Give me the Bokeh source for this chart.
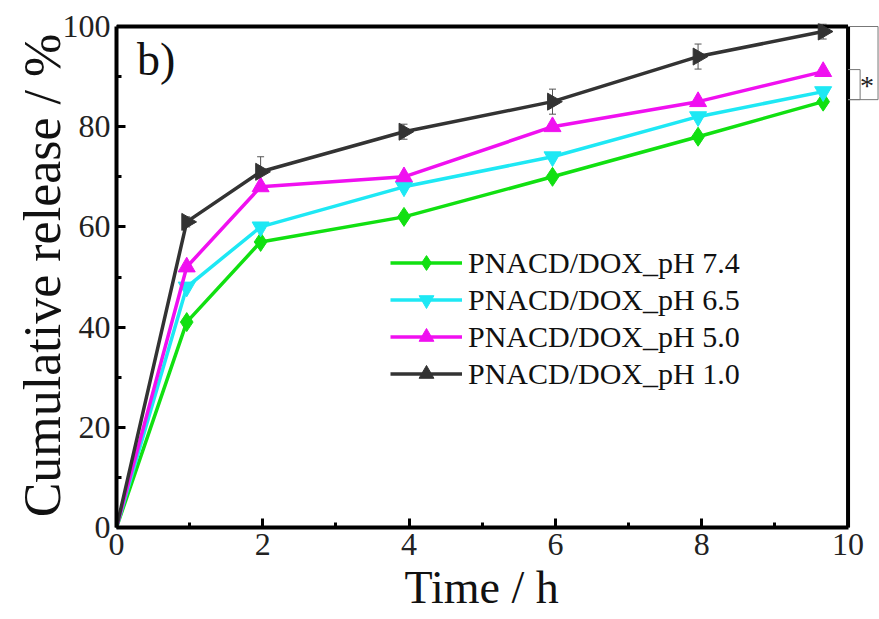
import numpy as np
from bokeh.plotting import figure
from bokeh.models import (Range1d, Legend, LegendItem, Label, ColumnDataSource,
                          Whisker, TeeHead, FixedTicker, Title)
from bokeh.embed import file_html
from bokeh.resources import INLINE

# ---- data ----
time_h = [0, 0.96, 1.97, 3.93, 5.96, 7.95, 9.66]
ph74 = [0, 41, 57, 62, 70, 78, 85]
ph65 = [0, 48, 60, 68, 74, 82, 87]
ph50 = [0, 52, 68, 70, 80, 85, 91]
ph10 = [0, 61, 71, 79, 85, 94, 99]
ph10_err = [0, 1.0, 3.0, 1.5, 2.5, 2.5, 1.5]
x_ticks = [0, 2, 4, 6, 8, 10]
y_ticks = [0, 20, 40, 60, 80, 100]
labels = ["PNACD/DOX_pH 7.4", "PNACD/DOX_pH 6.5", "PNACD/DOX_pH 5.0", "PNACD/DOX_pH 1.0"]
x_title = "Time / h"
y_title = "Cumulative release / %"
# significance brackets (y values)
bracket_outer = [100, 85.4]
bracket_inner = [91.4, 85.4]

FONT = "'Liberation Serif'"

p = figure(width=879, height=619, output_backend="svg", toolbar_location=None,
           x_range=Range1d(0, 10.43), y_range=Range1d(0, 100.6),
           min_border_left=116, min_border_right=0, min_border_top=23,
           min_border_bottom=92)
p.outline_line_color = None
p.grid.visible = False
p.background_fill_color = "white"
p.border_fill_color = "white"

for ax in (p.xaxis[0], p.yaxis[0]):
    ax.axis_line_width = 4
    ax.axis_line_color = "black"
    ax.major_tick_in = 9
    ax.major_tick_out = 0
    ax.minor_tick_in = 5
    ax.minor_tick_out = 0
    ax.major_tick_line_width = 3
    ax.minor_tick_line_width = 3
    ax.major_label_text_font = FONT
    ax.major_label_text_font_size = "32px"
    ax.major_label_text_color = "#222222"
    ax.axis_label_text_font = FONT
    ax.axis_label_text_font_style = "normal"
    ax.axis_label_text_color = "#111111"
    ax.major_label_standoff = 6

p.xaxis[0].bounds = (0, 10)
p.yaxis[0].bounds = (0, 100)
p.xaxis[0].ticker = FixedTicker(ticks=x_ticks, minor_ticks=[1, 3, 5, 7, 9])
p.yaxis[0].ticker = FixedTicker(ticks=y_ticks, minor_ticks=[10, 30, 50, 70, 90])
p.yaxis[0].axis_label = y_title
p.yaxis[0].axis_label_text_font_size = "52px"
p.yaxis[0].axis_label_standoff = -11

# x-axis title, aligned to the 0..10 span of the axis
p.add_layout(Title(text=x_title, align="left", offset=288, standoff=4,
                   text_font=FONT, text_font_size="46px", text_font_style="normal",
                   text_color="#111111"), "below")

# frame top and right borders
p.line([0, 10], [100, 100], line_color="black", line_width=4)
p.line([10, 10], [0, 100], line_color="black", line_width=4)

series = [
    (ph74, "#11e011", "diamond", 19, 0.0, labels[0]),
    (ph65, "#1ee8f4", "inverted_triangle", 17, 0.0, labels[1]),
    (ph50, "#f010f0", "triangle", 17, 0.0, labels[2]),
    (ph10, "#333333", "triangle", 17, -np.pi / 2, labels[3]),
]

items = []
for ys, col, mk, sz, ang, lab in series:
    lr = p.line(time_h, ys, line_color=col, line_width=3.5)
    sr = p.scatter(time_h[1:], ys[1:], marker=mk, size=sz, angle=ang,
                   fill_color=col, line_color=col)
    items.append(LegendItem(label=lab, renderers=[lr, sr]))

# error bars on pH 1.0 series
src = ColumnDataSource(dict(x=time_h[1:],
                            upper=[v + e for v, e in zip(ph10[1:], ph10_err[1:])],
                            lower=[v - e for v, e in zip(ph10[1:], ph10_err[1:])]))
wh = Whisker(source=src, base="x", upper="upper", lower="lower",
             line_color="#555555", line_width=1,
             upper_head=TeeHead(size=7, line_color="#555555", line_width=1),
             lower_head=TeeHead(size=7, line_color="#555555", line_width=1))
p.add_layout(wh)

legend = Legend(items=items, location=(274, 135), orientation="vertical")
legend.background_fill_alpha = 0
legend.border_line_color = None
legend.label_text_font = FONT
legend.label_text_font_size = "30px"
legend.label_text_color = "#111111"
legend.glyph_width = 72
legend.glyph_height = 37
legend.label_height = 37
legend.spacing = 0
legend.padding = 0
legend.margin = 0
legend.label_standoff = 6
p.add_layout(legend)

# panel label
p.add_layout(Label(x=0.28, y=93.4, text="b)", text_font=FONT, text_font_size="46px",
                   text_color="#111111", text_baseline="alphabetic"))

# significance brackets
gray = "#777777"
p.line([10, 10.41, 10.41, 10], [bracket_outer[0], bracket_outer[0], bracket_outer[1], bracket_outer[1]],
       line_color=gray, line_width=1)
p.line([10, 10.165, 10.165, 10], [bracket_inner[0], bracket_inner[0], bracket_inner[1], bracket_inner[1]],
       line_color=gray, line_width=1)
p.add_layout(Label(x=10.26, y=88.2, text="*", text_font=FONT, text_font_size="28px",
                   text_color="#222222", text_align="center", text_baseline="middle"))

open("out.html", "w").write(file_html(p, INLINE))
